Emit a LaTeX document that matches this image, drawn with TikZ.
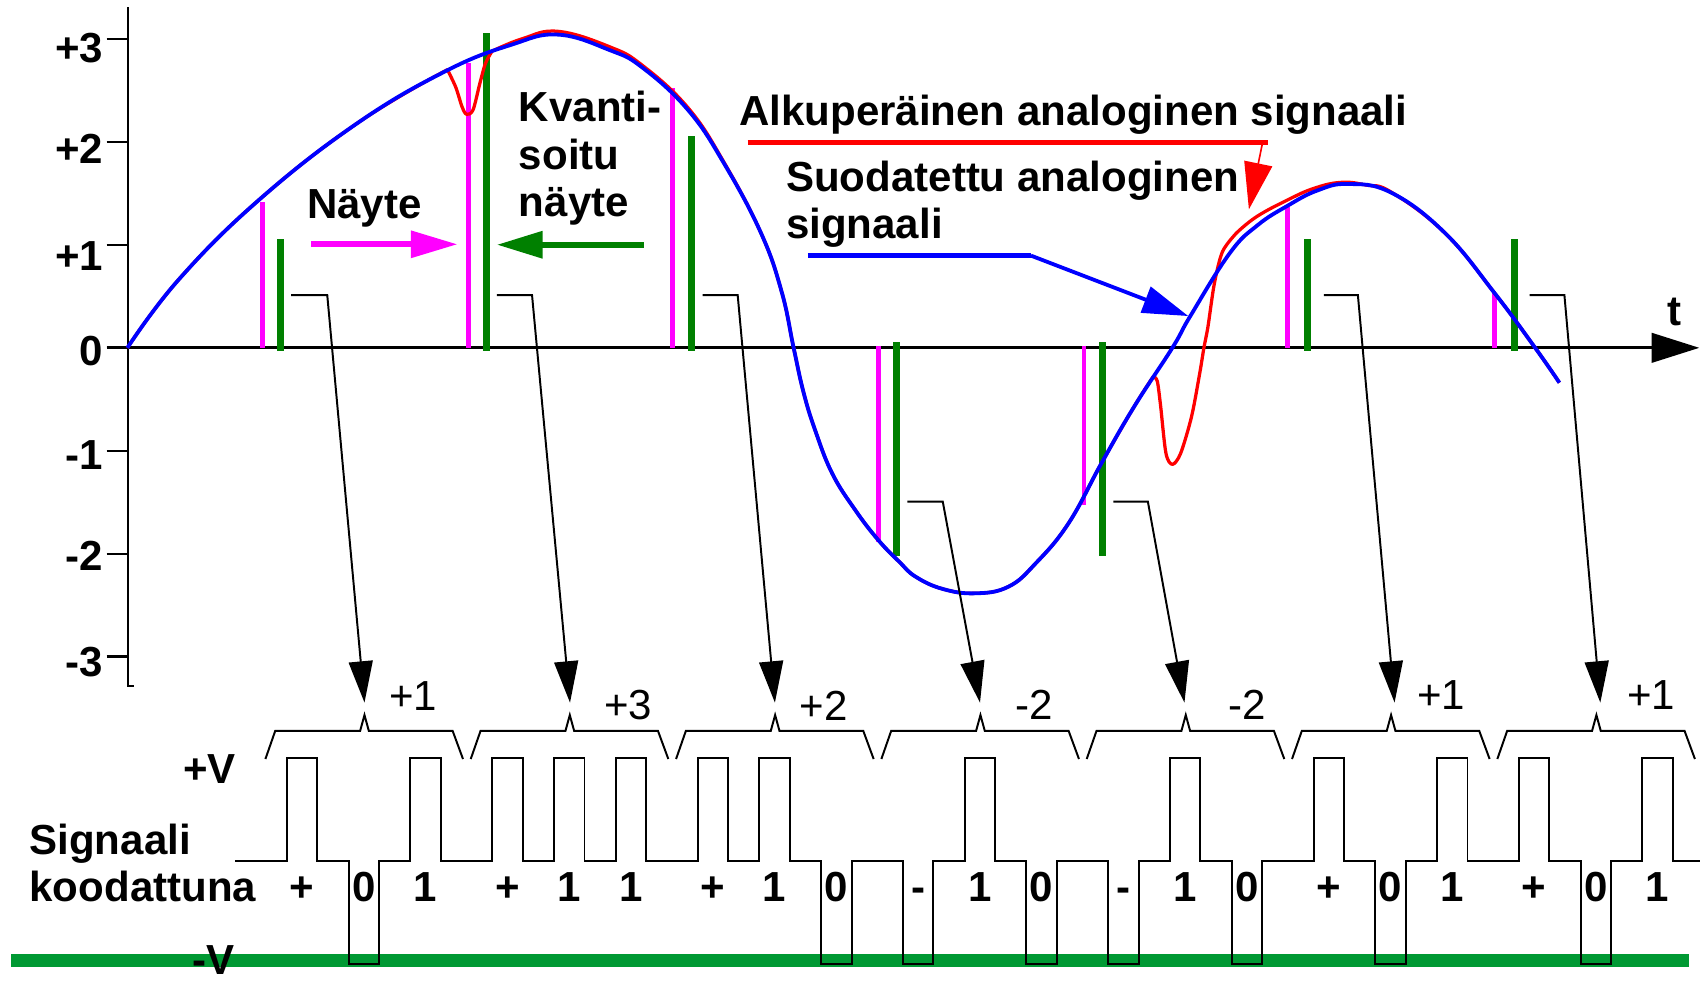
\documentclass[tikz,border=0pt]{standalone}
\usepackage{fontspec}
\setmainfont{Liberation Sans}
\usetikzlibrary{arrows.meta}
\definecolor{sampmag}{RGB}{255,0,255}
\definecolor{quantgreen}{RGB}{0,128,0}
\definecolor{railgreen}{RGB}{0,153,51}
\definecolor{origred}{RGB}{255,0,0}
\definecolor{filtblue}{RGB}{0,0,255}
\begin{document}
\begin{tikzpicture}[x=1pt,y=-1pt,
  boldtxt/.style={inner sep=0pt,font=\fontsize{38.6}{44}\selectfont\bfseries},
  plaintxt/.style={inner sep=0pt,font=\fontsize{38.6}{44}\selectfont},
  axisline/.style={black,line width=2pt},
  sample/.style={sampmag,line width=4.5pt},
  quant/.style={quantgreen,line width=6.5pt},
  link/.style={black,line width=1.8pt,line join=miter,-{Triangle[length=38pt,width=22pt]}},
  bracket/.style={black,line width=1.8pt,line join=miter},
  wave/.style={black,line width=1.8pt,line join=miter},
  origcurve/.style={origred,line width=3pt,line join=round},
  filtcurve/.style={filtblue,line width=3.5pt,line join=round},
]
\useasboundingbox (0,0) rectangle (1568,903);
\clip (0,0) rectangle (1568,903);

% ---------- axes ----------
\draw[axisline] (117.9,6.7) -- (117.9,630) -- (123,630);
\foreach \n in {-3,...,3}
  \draw[axisline] (98,{319.5-94.5*\n}) -- (117.9,{319.5-94.5*\n});
\coordinate (xo) at (98,319.5);
\coordinate (xend) at (1561,319.5);
\draw[black,line width=3pt,-{Triangle[length=44pt,width=27pt]}] (xo) -- (xend);
\node[boldtxt,anchor=base] (tlabel) at (1538,298.6) {t};

\foreach \t/\y/\i in {+3/44/a,+2/137/b,+1/235/c,0/322/d,-1/418/e,-2/511/f,-3/608/g}
  \node[boldtxt,anchor=east] (ylab\i) at (95,\y) {\t};

% ---------- sample and quantised bars ----------
\foreach \x/\y in {241/185.2,430/57.6,618/81,1182.7/189.8,1373/269.4}
  \draw[sample] (\x,319.5) -- (\x,\y);
\foreach \x/\y in {806.7/497.5,995.7/464}
  \draw[sample] (\x,317.8) -- (\x,\y);
\foreach \x/\y in {257.5/219.8,447/30.6,635.6/125,1200.7/219.8,1391/219.8}
  \draw[quant] (\x,322) -- (\x,\y);
\foreach \x in {823.4,1012.7}
  \draw[quant] (\x,314.4) -- (\x,510.4);

% ---------- signals ----------
% original signal: smooth parts joined to the two sharp disturbances
\draw[origcurve] plot[smooth,tension=0.7] coordinates {
  (117,319.5) (164,257) (237.8,183.7) (328,113.3) (411,64)}
  plot[smooth,tension=0.5] coordinates {
  (411,64) (418.6,80) (424.4,98) (428.5,105)
  (434.5,101) (440.8,76.5) (446,58) (452,47)}
  plot[smooth,tension=0.7] coordinates {
  (452,47) (480,35.5) (512.6,28.8) (560,43) (590,60) (632,99) (665,149)
  (699,214) (718,268) (729,319.5) (738,360) (748.7,395)
  (764.5,435) (785.6,468.5) (806.7,496) (826,516) (841,529.7) (866,541)
  (896,545) (926.3,538.9) (951.4,517.4) (981.5,480.7) (1011.7,425.6)
  (1041.8,373.5) (1059.3,346)}
  plot[smooth,tension=0.5] coordinates {
  (1059.3,346) (1063,350) (1066,372) (1071,416.4)
  (1077,426.5) (1084.5,416.4) (1094.5,382.7) (1102,343) (1105.9,319.3)
  (1109.6,300) (1115.5,260.2) (1123,231) (1135.8,214)}
  plot[smooth,tension=0.7] coordinates {
  (1135.8,214) (1154.3,199)
  (1182.7,183.7) (1207,173) (1232,167.5) (1255,170) (1278,176.5)
  (1327.6,214.3) (1373,269.4) (1410,319.3) (1432.4,351.5)};
\draw[filtcurve] plot[smooth,tension=0.7] coordinates {
  (117,319.5) (164,257) (237.8,183.7) (328,113.3) (410,65) (470,41)
  (512.6,31.8) (560,46) (590,62) (632,101) (665,150)
  (699,214) (718,268) (729,319.5) (738,360) (748.7,395) (764.5,435)
  (785.6,468.5) (806.7,496) (826,516) (841,529.7) (866,541) (896,545)
  (926.3,538.9) (951.4,517.4) (981.5,480.7) (1011.7,425.6) (1041.8,373.5)
  (1077,319.3) (1093.4,290.3) (1129.5,232.7) (1155,207) (1182.7,189)
  (1210,175) (1238,169) (1278,177) (1327.6,214.3) (1373,269.4)
  (1410,319.3) (1432.4,351.5)};

% ---------- annotations in the plot ----------
\node[boldtxt,anchor=base west] (nayte) at (282,200.5) {Näyte};
\coordinate (magA) at (286,224.4);
\coordinate (magB) at (420.3,224.4);
\draw[sampmag,line width=5.5pt,-{Triangle[length=43pt,width=24pt]}] (magA) -- (magB);

\node[boldtxt,anchor=base west] (kv1) at (476.5,112) {Kvanti-};
\node[boldtxt,anchor=base west] (kv2) at (476.5,155.5) {soitu};
\node[boldtxt,anchor=base west] (kv3) at (476.5,199) {näyte};
\coordinate (grnA) at (591.3,224.8);
\coordinate (grnB) at (456.4,224.8);
\draw[quantgreen,line width=5.5pt,-{Triangle[length=42pt,width=24pt]}] (grnA) -- (grnB);

\node[boldtxt,anchor=base west] (orig) at (679,115.7) {Alkuperäinen analoginen signaali};
\coordinate (redA) at (686.8,130.7);
\coordinate (redB) at (1164.4,130.7);
\coordinate (redC) at (1159.8,130.7);
\coordinate (redD) at (1147.2,192.3);
\draw[origred,line width=4.5pt] (redA) -- (redB);
\draw[origred,line width=1.5pt,-{Triangle[length=43pt,width=26pt]}] (redC) -- (redD);

\node[boldtxt,anchor=base west] (filt1) at (722,176) {Suodatettu analoginen};
\node[boldtxt,anchor=base west] (filt2) at (722,219) {signaali};
\coordinate (bluA) at (742,234.8);
\coordinate (bluB) at (947,234.8);
\coordinate (bluC) at (1091.5,290.3);
\draw[filtblue,line width=4.8pt] (bluA) -- (bluB);
\draw[filtblue,line width=3.5pt,-{Triangle[length=42pt,width=25pt]}] (bluB) -- (bluC);

% ---------- brackets over the code groups ----------
\foreach \k in {0,...,6}{
  \pgfmathsetmacro\c{334.8+188.6*\k}
  \draw[bracket] ({\c-91},697.2) -- ({\c-82},671.4) -- ({\c-4},671.4)
    -- (\c,656.8) coordinate (btip\k) -- ({\c+4},671.4) -- ({\c+81},671.4)
    -- ({\c+90.5},697.2);
}

% ---------- links from quantised values to the code groups ----------
\foreach \k/\sx/\cx/\hy/\ax in {0/267.4/300.6/271/334.8, 1/456.4/488.7/271/523.6,
    2/645.3/677.6/271/711.8, 3/833.5/866/460.8/900.2, 4/1022.7/1054.4/460.8/1088,
    5/1216/1247.3/271/1281, 6/1405/1437/271/1470}{
  \coordinate (lnk\k) at (\sx,\hy);
  \coordinate (lnkc\k) at (\cx,\hy);
  \coordinate (lnkt\k) at (\ax,645.4);
  \draw[link] (lnk\k) -- (lnkc\k) -- (lnkt\k);
}

\foreach \t/\x/\y/\i in {+1/379.5/639/a,+3/577/648/b,+2/756.6/648/c,-2/950/647/d,
    -2/1146/647/e,+1/1324/638.5/f,+1/1516.6/638.5/g}
  \node[plaintxt] (val\i) at (\x,\y) {\t};

% ---------- coded signal ----------
\draw[railgreen,line width=12pt] (10.5,882.5) -- (1551.5,882.5);

\draw[wave] (216,790.8)
  \foreach \k/\j/\v in {0/0/1,0/1/-1,0/2/1,1/0/1,1/1/1,1/2/1,2/0/1,2/1/1,2/2/-1,
      3/0/-1,3/1/1,3/2/-1,4/0/-1,4/1/1,4/2/-1,5/0/1,5/1/-1,5/2/1,6/0/1,6/1/-1,6/2/1}
  { -- ({263.6+188.6*\k+56.7*\j},790.8) -- ++(0,{-94.3*\v}) -- ++(28,0) -- ++(0,{94.3*\v}) }
  -- (1562,790.8);

\foreach \k/\j/\t in {0/0/+,0/1/0,0/2/1,1/0/+,1/1/1,1/2/1,2/0/+,2/1/1,2/2/0,
    3/0/-,3/1/1,3/2/0,4/0/-,4/1/1,4/2/0,5/0/+,5/1/0,5/2/1,6/0/+,6/1/0,6/2/1}
  \node[boldtxt,anchor=base] (bit\k\j) at ({277.6+188.6*\k+56.7*\j},828.2) {\t};

\node[boldtxt,anchor=base west] (vplus) at (168,719.5) {+V};
\node[boldtxt,anchor=base west] (vminus) at (177,895) {-V};
\node[boldtxt,anchor=base west] (sig1) at (27,785.3) {Signaali};
\node[boldtxt,anchor=base west] (sig2) at (27,828.2) {koodattuna};
\end{tikzpicture}
\end{document}
